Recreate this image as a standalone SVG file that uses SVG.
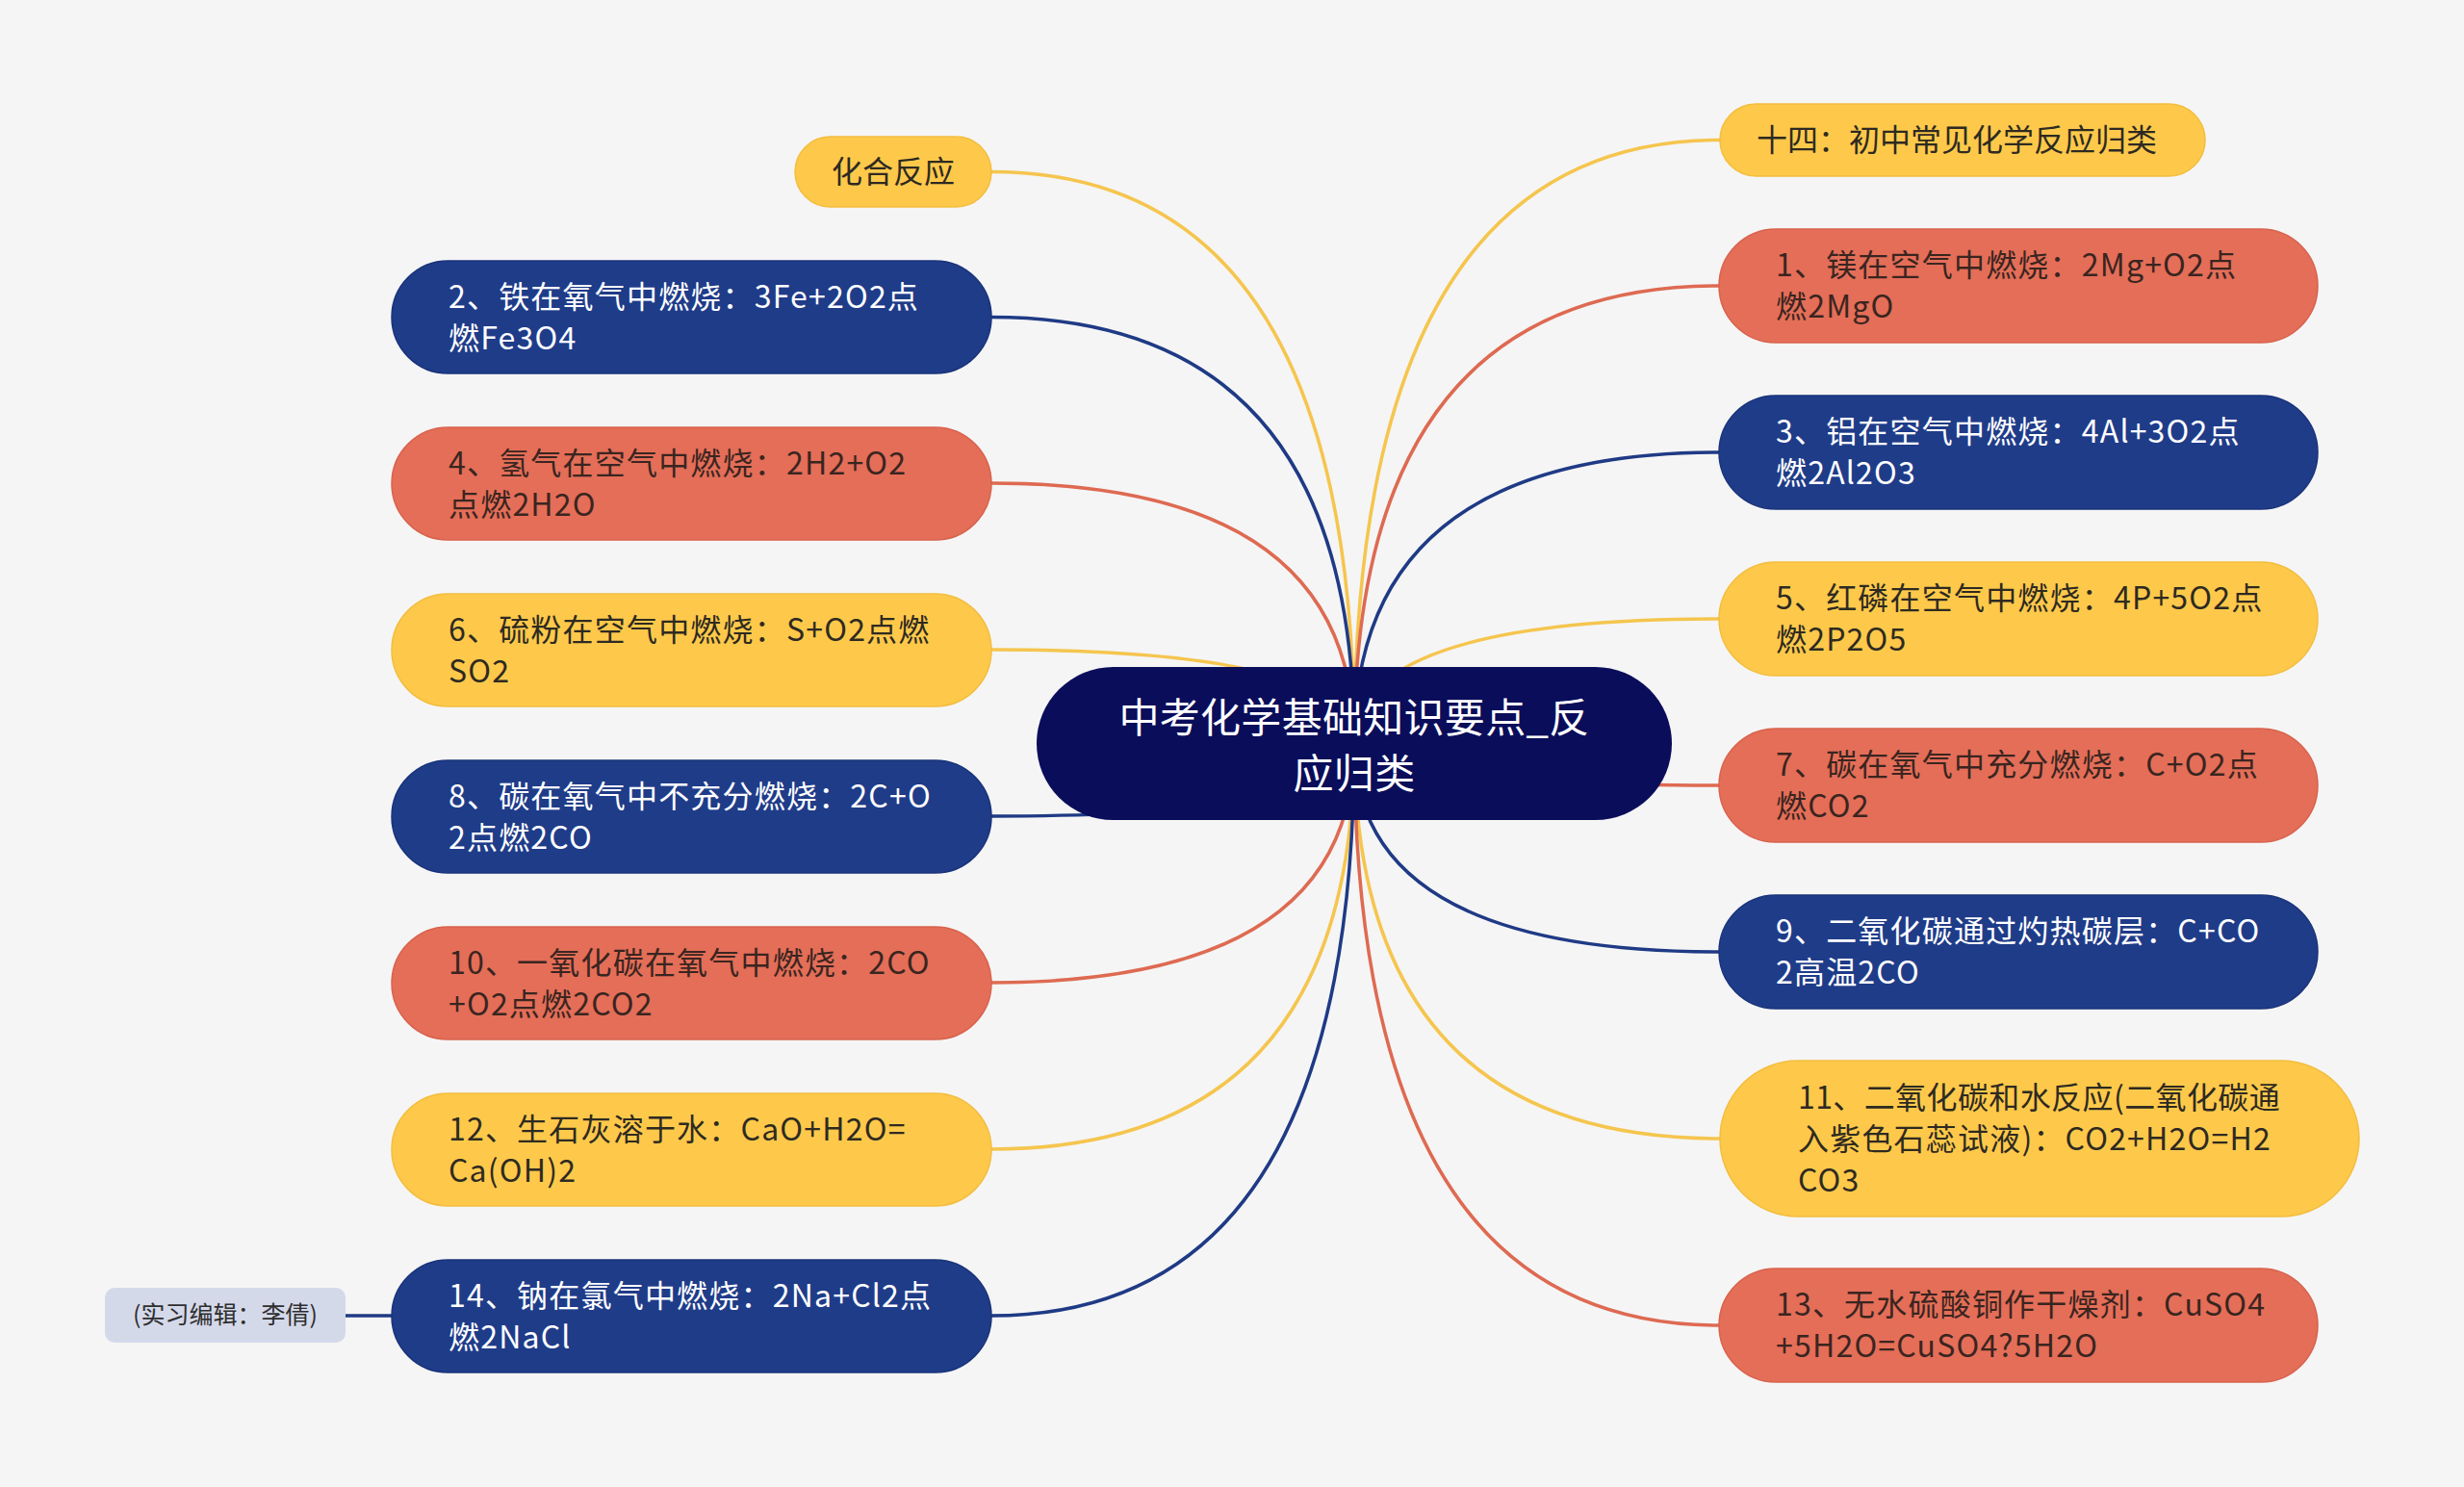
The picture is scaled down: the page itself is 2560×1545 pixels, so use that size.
<svg xmlns="http://www.w3.org/2000/svg" width="2560" height="1545" viewBox="0 0 2560 1545">
<style>
  text { font-family: "Noto Sans CJK SC", "Noto Sans", "Liberation Sans", sans-serif; font-size: 32px; letter-spacing: 1.2px; }
  .c { fill: none; stroke-width: 3.5; stroke-linecap: round; }
  .cy { stroke: #f5c54e; }
  .cr { stroke: #de6a52; }
  .cb { stroke: #1f3a85; }
  .ny { fill: #fec94a; stroke: #f3bd3e; stroke-width: 1.5; }
  .nr { fill: #e46e58; stroke: #d8624c; stroke-width: 1.5; }
  .nb { fill: #1f3c89; stroke: #19337a; stroke-width: 1.5; }
  .tw { fill: #ffffff; }
  .td { fill: #2e2a22; }
  .tr { fill: #3a2520; }
  .tc { fill: #ffffff; font-size: 42px; letter-spacing: 0.3px; }
</style>
<rect x="0" y="0" width="2560" height="1545" fill="#f5f5f5"/>

<g id="connectors">
  <path class="c cy" d="M1407 772 Q1407 178.5 1030 178.5"/>
  <path class="c cb" d="M1407 772 Q1407 329.5 1030 329.5"/>
  <path class="c cr" d="M1407 772 Q1407 502 1030 502"/>
  <path class="c cy" d="M1407 772 Q1407 675 1030 675"/>
  <path class="c cb" d="M1407 772 Q1407 848 1030 848"/>
  <path class="c cr" d="M1407 772 Q1407 1021 1030 1021"/>
  <path class="c cy" d="M1407 772 Q1407 1194 1030 1194"/>
  <path class="c cb" d="M1407 772 Q1407 1367 1030 1367"/>
  <path class="c cy" d="M1407 772 Q1407 145.5 1787 145.5"/>
  <path class="c cr" d="M1407 772 Q1407 297 1786 297"/>
  <path class="c cb" d="M1407 772 Q1407 470 1786 470"/>
  <path class="c cy" d="M1407 772 Q1407 643 1786 643"/>
  <path class="c cr" d="M1407 772 Q1407 816 1786 816"/>
  <path class="c cb" d="M1407 772 Q1407 989 1786 989"/>
  <path class="c cy" d="M1407 772 Q1407 1183 1787 1183"/>
  <path class="c cr" d="M1407 772 Q1407 1377 1786 1377"/>
  <path class="c cb" d="M359 1367 L408 1367"/>
</g>

<g id="center">
  <rect x="1077" y="693" width="660" height="159" rx="79.5" fill="#0a0d5a"/>
  <text class="tc" x="1407" y="761" text-anchor="middle">中考化学基础知识要点_反</text>
  <text class="tc" x="1407" y="819" text-anchor="middle">应归类</text>
</g>

<g id="n-huahe">
  <rect class="ny" x="826" y="142" width="204" height="73" rx="36.5"/>
  <text class="td" x="928" y="190" text-anchor="middle" style="letter-spacing:0">化合反应</text>
</g>
<g id="n2">
  <rect class="nb" x="407" y="271" width="623" height="117" rx="58.5"/>
  <text class="tw" x="466" y="320">2、铁在氧气中燃烧：3Fe+2O2点</text>
  <text class="tw" x="466" y="363">燃Fe3O4</text>
</g>
<g id="n4">
  <rect class="nr" x="407" y="444" width="623" height="117" rx="58.5"/>
  <text class="tr" x="466" y="493">4、氢气在空气中燃烧：2H2+O2</text>
  <text class="tr" x="466" y="536">点燃2H2O</text>
</g>
<g id="n6">
  <rect class="ny" x="407" y="617" width="623" height="117" rx="58.5"/>
  <text class="td" x="466" y="666">6、硫粉在空气中燃烧：S+O2点燃</text>
  <text class="td" x="466" y="709">SO2</text>
</g>
<g id="n8">
  <rect class="nb" x="407" y="790" width="623" height="117" rx="58.5"/>
  <text class="tw" x="466" y="839">8、碳在氧气中不充分燃烧：2C+O</text>
  <text class="tw" x="466" y="882">2点燃2CO</text>
</g>
<g id="n10">
  <rect class="nr" x="407" y="963" width="623" height="117" rx="58.5"/>
  <text class="tr" x="466" y="1012">10、一氧化碳在氧气中燃烧：2CO</text>
  <text class="tr" x="466" y="1055">+O2点燃2CO2</text>
</g>
<g id="n12">
  <rect class="ny" x="407" y="1136" width="623" height="117" rx="58.5"/>
  <text class="td" x="466" y="1185">12、生石灰溶于水：CaO+H2O=</text>
  <text class="td" x="466" y="1228">Ca(OH)2</text>
</g>
<g id="n14">
  <rect class="nb" x="407" y="1309" width="623" height="117" rx="58.5"/>
  <text class="tw" x="466" y="1358">14、钠在氯气中燃烧：2Na+Cl2点</text>
  <text class="tw" x="466" y="1401">燃2NaCl</text>
</g>
<g id="n-editor">
  <rect x="109" y="1338" width="250" height="57" rx="10" fill="#d4d9ea"/>
  <text x="234" y="1375" text-anchor="middle" fill="#2e2e2e" style="font-size:25px;letter-spacing:0">(实习编辑：李倩)</text>
</g>

<g id="n-shisi">
  <rect class="ny" x="1787" y="108" width="504" height="75" rx="37.5"/>
  <text class="td" x="1825" y="157" style="letter-spacing:0">十四：初中常见化学反应归类</text>
</g>
<g id="n1">
  <rect class="nr" x="1786" y="238" width="622" height="118" rx="59"/>
  <text class="tr" x="1845" y="287">1、镁在空气中燃烧：2Mg+O2点</text>
  <text class="tr" x="1845" y="330">燃2MgO</text>
</g>
<g id="n3">
  <rect class="nb" x="1786" y="411" width="622" height="118" rx="59"/>
  <text class="tw" x="1845" y="460">3、铝在空气中燃烧：4Al+3O2点</text>
  <text class="tw" x="1845" y="503">燃2Al2O3</text>
</g>
<g id="n5">
  <rect class="ny" x="1786" y="584" width="622" height="118" rx="59"/>
  <text class="td" x="1845" y="633">5、红磷在空气中燃烧：4P+5O2点</text>
  <text class="td" x="1845" y="676">燃2P2O5</text>
</g>
<g id="n7">
  <rect class="nr" x="1786" y="757" width="622" height="118" rx="59"/>
  <text class="tr" x="1845" y="806">7、碳在氧气中充分燃烧：C+O2点</text>
  <text class="tr" x="1845" y="849">燃CO2</text>
</g>
<g id="n9">
  <rect class="nb" x="1786" y="930" width="622" height="118" rx="59"/>
  <text class="tw" x="1845" y="979">9、二氧化碳通过灼热碳层：C+CO</text>
  <text class="tw" x="1845" y="1022">2高温2CO</text>
</g>
<g id="n11">
  <rect class="ny" x="1787" y="1102" width="664" height="162" rx="81"/>
  <text class="td" x="1868" y="1152" style="letter-spacing:0.4px">11、二氧化碳和水反应(二氧化碳通</text>
  <text class="td" x="1868" y="1195">入紫色石蕊试液)：CO2+H2O=H2</text>
  <text class="td" x="1868" y="1238">CO3</text>
</g>
<g id="n13">
  <rect class="nr" x="1786" y="1318" width="622" height="118" rx="59"/>
  <text class="tr" x="1845" y="1367">13、无水硫酸铜作干燥剂：CuSO4</text>
  <text class="tr" x="1845" y="1410">+5H2O=CuSO4?5H2O</text>
</g>
</svg>
